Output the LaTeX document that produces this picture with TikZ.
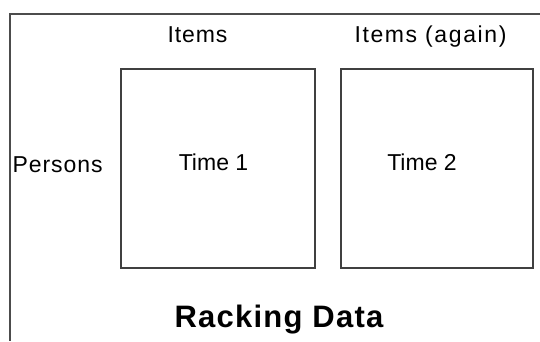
\documentclass[tikz,border=0pt]{standalone}
\usepackage{fontspec}
\setmainfont{Liberation Sans}
\newfontfamily\widefont[LetterSpace=4]{Liberation Sans}
\newfontfamily\widerfont[LetterSpace=7]{Liberation Sans}
\begin{document}
\begin{tikzpicture}[x=1pt,y=-1pt]
\tikzstyle{tm}=[rectangle,draw=black!75,line width=2pt,minimum height=199pt]
\tikzstyle{lbl}=[anchor=base,text=black,font=\fontsize{23}{26}\selectfont]
\useasboundingbox (0,0) rectangle (540,341);
\coordinate (tl) at (10,14);
\coordinate (tr) at (540,14);
\coordinate (bl) at (10,341);
\draw[black!70,line width=1.5pt] (tr) -- (tl) -- (bl);
\node[tm, minimum width=194pt] (B1) at (218,168.5) {};
\node[tm, minimum width=192pt] (B2) at (437,168.5) {};
\node[lbl] (I1) at (197.5,42) {\widefont Items};
\node[lbl] (I2) at (430.5,42) {\widerfont Items (again)};
\node[lbl, anchor=base west, inner sep=0pt] (P) at (12.5,172) {\widefont Persons};
\node[lbl] (T1) at (213.5,170) {Time 1};
\node[lbl] (T2) at (422,170) {Time 2};
\node[lbl, font=\fontsize{31}{36}\selectfont\bfseries] (RD) at (279,327) {\widefont\bfseries Racking Data};
\end{tikzpicture}
\end{document}
